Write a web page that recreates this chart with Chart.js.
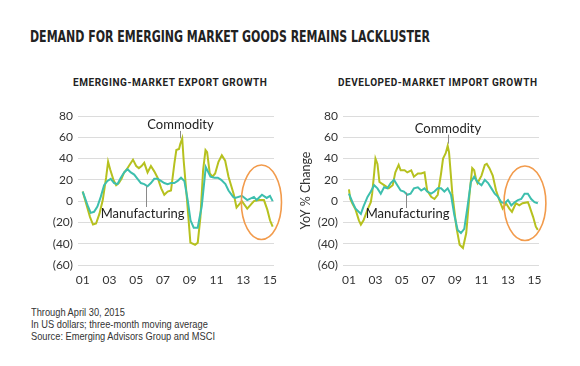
<!DOCTYPE html>
<html>
<head>
<meta charset="utf-8">
<script src="https://cdn.jsdelivr.net/npm/chart.js@4.4.1/dist/chart.umd.min.js"></script>
<style>
  html, body { margin: 0; padding: 0; background: #fff; }
  body { width: 580px; height: 366px; position: relative; overflow: hidden; }
  .title { position: absolute; left: 30px; top: 28px; font-family: "DejaVu Sans", sans-serif; font-stretch: condensed; font-weight: bold; font-size: 15.5px; color: #222; white-space: nowrap; transform-origin: 0 0; }
  .sub { position: absolute; top: 77px; font-family: Roboto, "DejaVu Sans", sans-serif; font-weight: 700; font-size: 10px; letter-spacing: 0.55px; color: #222; white-space: nowrap; }
  .foot { position: absolute; left: 31px; top: 306px; font-family: "Liberation Sans", Arial, sans-serif; font-size: 11px; line-height: 12px; color: #333; white-space: nowrap; transform-origin: 0 0; }
  canvas { position: absolute; }
</style>
</head>
<body>
<div class="title" id="ttl">DEMAND FOR EMERGING MARKET GOODS REMAINS LACKLUSTER</div>
<div class="sub" style="left:73px">EMERGING-MARKET EXPORT GROWTH</div>
<div class="sub" style="left:338px">DEVELOPED-MARKET IMPORT GROWTH</div>
<div class="foot" id="foot"><span>Through April 30, 2015</span><br><span>In US dollars; three-month moving average</span><br><span id="src">Source: Emerging Advisors Group and MSCI</span></div>
<div style="position:absolute;left:0;top:100px;width:290px;height:200px"><canvas id="c1"></canvas></div>
<div style="position:absolute;left:290px;top:100px;width:290px;height:200px"><canvas id="c2"></canvas></div>
<script>
// ---------- DATA ----------
const yearTicks = [2001, 2003, 2005, 2007, 2009, 2011, 2013, 2015];
const yTicks = [-60, -40, -20, 0, 20, 40, 60, 80];

// Emerging-market export growth: Commodity
const emCommodityT = [2001.0,2001.3,2001.55,2001.77,2002.0,2002.25,2002.5,2002.75,2002.9,2003.05,2003.3,2003.5,2003.7,2003.9,2004.1,2004.3,2004.5,2004.76,2005.0,2005.2,2005.4,2005.6,2005.85,2006.1,2006.35,2006.6,2006.87,2007.1,2007.35,2007.6,2007.85,2008.0,2008.2,2008.3,2008.44,2008.55,2008.8,2009.05,2009.4,2009.6,2009.8,2010.0,2010.18,2010.3,2010.5,2010.7,2010.9,2011.15,2011.4,2011.65,2011.9,2012.3,2012.5,2012.9,2013.3,2013.8,2014.2,2014.55,2014.8,2015.0,2015.2];
const emCommodityV = [9,-4,-15,-22,-21,-12,1,22,37,30,20,15,17,21,27,30,34,39,33,31,33,36,27,33,28,22,12,6,9,10,35,48,49,54,59,38,1,-39,-41,-39,-15,29,48,46,26,23,26,37,43,38,23,6,-6,0,-7,0,1,1,-8,-18,-24];

// Emerging-market export growth: Manufacturing
const emManufT = [2001.0,2001.4,2001.6,2001.85,2002.1,2002.35,2002.6,2002.85,2003.1,2003.35,2003.6,2003.85,2004.1,2004.35,2004.6,2004.85,2005.1,2005.35,2005.6,2005.85,2006.1,2006.35,2006.6,2006.85,2007.1,2007.35,2007.6,2007.85,2008.1,2008.35,2008.6,2008.85,2009.06,2009.3,2009.6,2009.7,2009.9,2010.2,2010.55,2010.85,2011.1,2011.35,2011.67,2011.9,2012.25,2012.4,2012.9,2013.3,2013.8,2014.0,2014.4,2014.75,2015.0,2015.2];
const emManufV = [9,-5,-11,-10,-5,4,15,19,21,17,16,22,27,30,27,25,21,17,16,14,17,21,21,19,17,16,17,17,19,22,19,1,-18,-25,-25,-18,-5,32,23,22,22,20,16,10,4,3,5,1,4,1,6,3,5,0];

// Developed-market import growth: Commodity
const dmCommodityT = [2001.0,2001.1,2001.25,2001.5,2001.75,2001.9,2002.1,2002.4,2002.65,2002.75,2002.9,2003.0,2003.15,2003.3,2003.65,2004.0,2004.3,2004.5,2004.75,2004.9,2005.2,2005.4,2005.7,2005.9,2006.2,2006.45,2006.7,2006.9,2007.2,2007.45,2007.7,2007.95,2008.1,2008.3,2008.45,2008.55,2008.8,2009.1,2009.35,2009.6,2009.85,2010.1,2010.3,2010.45,2010.6,2010.7,2011.0,2011.25,2011.4,2011.6,2011.85,2012.1,2012.35,2012.6,2012.85,2013.1,2013.3,2013.6,2013.85,2014.1,2014.5,2014.6,2014.9,2015.1,2015.25];
const dmCommodityV = [11,2,-2,-8,-18,-22,-18,-8,-1,7,26,40,35,18,15,12,15,27,34,29,29,27,29,23,26,26,27,10,4,2,6,26,40,45,52,46,7,-24,-41,-44,-30,7,31,29,20,17,24,34,35,31,24,10,1,-7,-2,-7,-10,-2,-4,-2,-1,-4,-15,-24,-27];

// Developed-market import growth: Manufacturing
const dmManufT = [2001.0,2001.3,2001.5,2001.9,2002.1,2002.4,2002.65,2002.9,2003.15,2003.4,2003.65,2003.9,2004.15,2004.4,2004.65,2004.9,2005.15,2005.4,2005.65,2005.9,2006.2,2006.45,2006.7,2006.9,2007.2,2007.45,2007.7,2007.95,2008.2,2008.45,2008.7,2008.95,2009.2,2009.45,2009.7,2009.95,2010.2,2010.45,2010.7,2011.0,2011.25,2011.5,2011.75,2012.0,2012.25,2012.5,2012.75,2013.0,2013.25,2013.5,2013.75,2014.0,2014.25,2014.5,2014.75,2015.0,2015.25];
const dmManufV = [7,-2,-7,-12,-5,4,9,15,12,7,13,12,17,20,15,10,9,6,7,12,13,10,12,9,7,9,12,12,9,12,6,-13,-27,-30,-26,-5,18,23,18,15,20,17,12,7,4,-1,-2,1,-4,-1,1,2,7,7,2,-1,-2];

// ---------- STYLE ----------
const COMMODITY_COLOR = '#b6c11f';
const MANUF_COLOR = '#3dbfae';
const ELLIPSE_COLOR = '#f29b4c';

// fit header/footer text widths to the reference
(function () {
  const t = document.getElementById('ttl');
  t.style.transform = 'scaleX(' + (400 / t.getBoundingClientRect().width) + ')';
  const f = document.getElementById('foot');
  const s = document.getElementById('src');
  f.style.transform = 'scaleX(' + (184 / s.getBoundingClientRect().width) + ')';
})();

function pts(t, v) { return t.map((x, i) => ({ x: x, y: v[i] })); }

const notesPlugin = {
  id: 'notes',
  afterDatasetsDraw(chart, args, opts) {
    const ctx = chart.ctx, xs = chart.scales.x, ys = chart.scales.y;
    ctx.save();
    const e = opts.ellipse;
    const cx = xs.getPixelForValue(e.x), cy = ys.getPixelForValue(e.y);
    const rx = Math.abs(xs.getPixelForValue(e.x + e.dx) - cx);
    const ry = Math.abs(ys.getPixelForValue(e.y + e.dy) - cy);
    ctx.beginPath();
    ctx.ellipse(cx, cy, rx, ry, 0, 0, Math.PI * 2);
    ctx.strokeStyle = ELLIPSE_COLOR; ctx.lineWidth = 1.6; ctx.stroke();
    opts.labels.forEach(l => {
      ctx.beginPath();
      ctx.strokeStyle = '#8a8a8a'; ctx.lineWidth = 1;
      const lx = Math.round(xs.getPixelForValue(l.lx)) + 0.5;
      ctx.moveTo(lx, ys.getPixelForValue(l.ly1));
      ctx.lineTo(lx, ys.getPixelForValue(l.ly2));
      ctx.stroke();
      ctx.font = '13px Lato, "Open Sans", sans-serif';
      ctx.fillStyle = '#222'; ctx.textAlign = 'center'; ctx.textBaseline = 'middle';
      ctx.fillText(l.text, xs.getPixelForValue(l.x), ys.getPixelForValue(l.y));
    });
    ctx.restore();
  }
};

function makeChart(id, commT, commV, manT, manV, cfg) {
  return new Chart(document.getElementById(id), {
    type: 'line',
    data: {
      datasets: [
        { label: 'Manufacturing', data: pts(manT, manV), borderColor: MANUF_COLOR, borderWidth: 2, pointRadius: 0, tension: 0 },
        { label: 'Commodity', data: pts(commT, commV), borderColor: COMMODITY_COLOR, borderWidth: 2, pointRadius: 0, tension: 0 }
      ]
    },
    options: {
      responsive: true, maintainAspectRatio: false, animation: false,
      layout: { padding: { left: 0, right: cfg.padRight, top: 16, bottom: 0 } },
      plugins: { legend: { display: false }, tooltip: { enabled: false }, notes: cfg.notes },
      scales: {
        x: {
          type: 'linear', min: cfg.xmin, max: cfg.xmax,
          grid: { display: false, drawTicks: false }, border: { display: false },
          afterBuildTicks: s => { s.ticks = yearTicks.map(v => ({ value: v })); },
          afterFit: s => { s.height = 35; },
          ticks: { autoSkip: false, maxRotation: 0, padding: 8, color: '#333', font: { family: 'Lato', size: 12 },
            callback: v => String(v % 100).padStart(2, '0') }
        },
        y: {
          min: -60, max: 80,
          afterBuildTicks: s => { s.ticks = yTicks.map(v => ({ value: v })); },
          afterFit: s => { s.width = cfg.yWidth; },
          grid: { color: '#dcdcdc', lineWidth: 1, drawTicks: false }, border: { display: false },
          title: cfg.yTitle,
          ticks: { padding: 5, color: '#333', font: { family: 'Lato', size: 12 },
            callback: v => v < 0 ? '(' + Math.abs(v) + ')' : String(v) }
        }
      }
    },
    plugins: [notesPlugin]
  });
}

makeChart('c1', emCommodityT, emCommodityV, emManufT, emManufV, {
  xmin: 2000.65, xmax: 2015.3, padRight: 16, yWidth: 78,
  yTitle: { display: false },
  notes: {
    ellipse: { x: 2014.36, y: -1, dx: 1.5, dy: 35 },
    labels: [
      { text: 'Commodity', x: 2008.31, y: 72, lx: 2008.31, ly1: 66, ly2: 59 },
      { text: 'Manufacturing', x: 2005.48, y: -12, lx: 2005.75, ly1: 14, ly2: -5.5 }
    ]
  }
});

makeChart('c2', dmCommodityT, dmCommodityV, dmManufT, dmManufV, {
  xmin: 2000.55, xmax: 2015.34, padRight: 41, yWidth: 53,
  yTitle: { display: true, text: 'YoY % Change', color: '#333', font: { family: 'Lato', size: 12.5 }, padding: { top: 8, bottom: 0 } },
  notes: {
    ellipse: { x: 2014.28, y: -2, dx: 1.58, dy: 35 },
    labels: [
      { text: 'Commodity', x: 2008.47, y: 68, lx: 2008.45, ly1: 62.5, ly2: 54 },
      { text: 'Manufacturing', x: 2005.42, y: -12, lx: 2005.28, ly1: 8, ly2: -6.5 }
    ]
  }
});
</script>
</body>
</html>
